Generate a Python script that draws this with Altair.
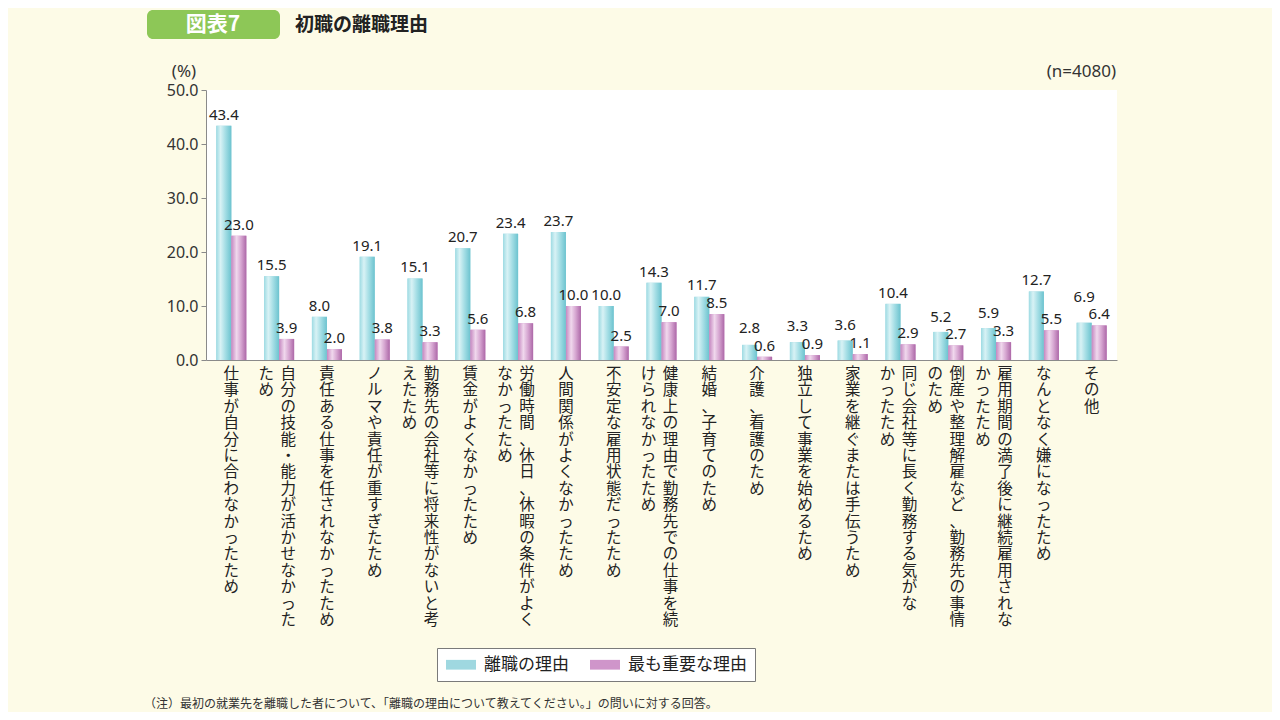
import altair as alt
import pandas as pd

# ---------------- data ----------------
label_cols = [
    ["仕事が自分に合わなかったため"],
    ["自分の技能・能力が活かせなかった", "ため"],
    ["責任ある仕事を任されなかったため"],
    ["ノルマや責任が重すぎたため"],
    ["勤務先の会社等に将来性がないと考", "えたため"],
    ["賃金がよくなかったため"],
    ["労働時間、休日、休暇の条件がよく", "なかったため"],
    ["人間関係がよくなかったため"],
    ["不安定な雇用状態だったため"],
    ["健康上の理由で勤務先での仕事を続", "けられなかったため"],
    ["結婚、子育てのため"],
    ["介護、看護のため"],
    ["独立して事業を始めるため"],
    ["家業を継ぐまたは手伝うため"],
    ["同じ会社等に長く勤務する気がな", "かったため"],
    ["倒産や整理解雇など、勤務先の事情", "のため"],
    ["雇用期間の満了後に継続雇用されな", "かったため"],
    ["なんとなく嫌になったため"],
    ["その他"],
]
categories = ["".join(c) for c in label_cols]
series_names = ["離職の理由", "最も重要な理由"]
reason_all = [43.4, 15.5, 8.0, 19.1, 15.1, 20.7, 23.4, 23.7, 10.0, 14.3,
              11.7, 2.8, 3.3, 3.6, 10.4, 5.2, 5.9, 12.7, 6.9]
reason_main = [23.0, 3.9, 2.0, 3.8, 3.3, 5.6, 6.8, 10.0, 2.5, 7.0,
               8.5, 0.6, 0.9, 1.1, 2.9, 2.7, 3.3, 5.5, 6.4]
y_ticks = [0, 10, 20, 30, 40, 50]

title_badge = "図表7"
title_text = "初職の離職理由"
unit_text = "(%)"
n_text = "(n=4080)"
note_text = "（注）最初の就業先を離職した者について、「離職の理由について教えてください。」の問いに対する回答。"

# ---------------- tables ----------------
rows = []
for i, c in enumerate(categories):
    rows.append({"cat": c, "series": series_names[0], "value": reason_all[i],
                 "other": reason_main[i]})
    rows.append({"cat": c, "series": series_names[1], "value": reason_main[i],
                 "other": reason_all[i]})
df = pd.DataFrame(rows)

lab_rows = []
for c, cols in zip(categories, label_cols):
    if len(cols) == 1:
        lab_rows.append({"cat": c, "pos": "single", "txt": "\n".join(cols[0])})
    else:
        lab_rows.append({"cat": c, "pos": "right", "txt": "\n".join(cols[0])})
        lab_rows.append({"cat": c, "pos": "left", "txt": "\n".join(cols[1])})
lab_df = pd.DataFrame(lab_rows)

JP = "Noto Sans CJK JP"
NUM = "Noto Sans"
W, H = 911, 270

blue_grad = {"gradient": "linear", "x1": 0, "x2": 1, "y1": 0, "y2": 0,
             "stops": [{"offset": 0, "color": "#9edbe3"},
                       {"offset": 0.28, "color": "#d8f2f5"},
                       {"offset": 0.6, "color": "#a5dee5"},
                       {"offset": 1, "color": "#6cc3cf"}]}
pink_grad = {"gradient": "linear", "x1": 0, "x2": 1, "y1": 0, "y2": 0,
             "stops": [{"offset": 0, "color": "#c587c0"},
                       {"offset": 0.35, "color": "#f0d8ed"},
                       {"offset": 0.65, "color": "#d6a6d1"},
                       {"offset": 1, "color": "#ad68a8"}]}

x_enc = alt.X("cat:N", sort=categories,
              scale=alt.Scale(domain=categories, paddingInner=0.372, paddingOuter=0.216),
              axis=alt.Axis(labels=False, ticks=False, title=None, domainColor="#8a8a8a",
                            domainWidth=1))
xo_enc = alt.XOffset("series:N", sort=series_names,
                     scale=alt.Scale(domain=series_names, paddingInner=0, paddingOuter=0))
y_scale = alt.Scale(domain=[0, 50])
y_enc = alt.Y("value:Q", scale=y_scale,
              axis=alt.Axis(values=y_ticks, format=".1f", title=None, grid=False,
                            labelFont=NUM, labelFontSize=16, labelColor="#333333",
                            tickSize=5, tickColor="#8a8a8a", domainColor="#8a8a8a",
                            labelPadding=3))

base = alt.Chart(df)

legend_bars = base.mark_bar().encode(
    x=x_enc, xOffset=xo_enc, y=y_enc,
    color=alt.Color("series:N", sort=series_names,
                    scale=alt.Scale(domain=series_names, range=["#9fd8e0", "#cf95ca"]),
                    legend=alt.Legend(title=None, orient="none", direction="horizontal",
                                      legendX=231, legendY=558,
                                      symbolType="M-1,-0.65H3V0.65H-1Z",
                                      symbolSize=225, symbolStrokeWidth=0,
                                      labelFont=JP, labelFontSize=17, labelColor="#222222",
                                      columnPadding=20, labelOffset=22,
                                      strokeColor="#7a7a7a", fillColor="white",
                                      padding=8)),
)

blue_bars = base.transform_filter(alt.datum.series == series_names[0]).mark_bar(
    fill=blue_grad).encode(x=x_enc, xOffset=xo_enc, y=y_enc)
pink_bars = base.transform_filter(alt.datum.series == series_names[1]).mark_bar(
    fill=pink_grad).encode(x=x_enc, xOffset=xo_enc, y=y_enc)

# value labels: the left (blue) label is lifted when the neighbouring bar is close in height
value_text = base.transform_calculate(
    ly=f"datum.series == '{series_names[0]}' && datum.other > datum.value - 3.3 "
       f"? max(datum.value, datum.other + 3.3) : datum.value"
).mark_text(baseline="bottom", dy=-3, font=NUM, fontSize=15,
            fontWeight="normal", color="#222222").encode(
    x=x_enc, xOffset=xo_enc, y=alt.Y("ly:Q", scale=y_scale),
    text=alt.Text("value:Q", format=".1f"))


def lab_layer(pos, dx):
    return alt.Chart(lab_df).transform_filter(alt.datum.pos == pos).mark_text(
        lineBreak="\n", lineHeight=16.4, baseline="top", align="center", dx=dx,
        font=JP, fontSize=15.5, color="#222222").encode(
        x=alt.X("cat:N", sort=categories), y=alt.value(H + 7), text="txt:N")


labels_single = lab_layer("single", 0)
labels_right = lab_layer("right", 9)
labels_left = lab_layer("left", -13)


def note(txt, x, y, **kw):
    return alt.Chart(pd.DataFrame({"t": [txt]})).mark_text(**kw).encode(
        text="t:N", x=alt.value(x), y=alt.value(y))


badge = alt.Chart(pd.DataFrame({"t": [title_badge]})).mark_rect(
    fill="#8dc757", cornerRadius=6).encode(
    x=alt.value(-59), x2=alt.value(74), y=alt.value(-80), y2=alt.value(-51))
badge_txt = note(title_badge, 7, -65, font=JP, fontSize=21, fontWeight="bold",
                 color="white", align="center", baseline="middle")
title_t = note(title_text, 89, -65, font=JP, fontSize=19, fontWeight="bold",
               color="#222222", align="left", baseline="middle")
unit_t = note(unit_text, -22, -18, font=NUM, fontSize=17, color="#333333",
              align="center", baseline="middle")
n_t = note(n_text, 910, -18, font=NUM, fontSize=17, color="#333333",
           align="right", baseline="middle")
note_t = note(note_text, -62, 614, font=JP, fontSize=12, color="#333333",
              align="left", baseline="middle")

chart = alt.layer(
    legend_bars, blue_bars, pink_bars, value_text,
    labels_single, labels_right, labels_left,
    badge, badge_txt, title_t, unit_t, n_t, note_t,
).properties(
    width=W, height=H,
    padding={"left": 198, "top": 82, "right": 155, "bottom": 352},
    autosize=alt.AutoSizeParams(type="none"),
    background="#fdfbe7",
).configure_view(fill="white", stroke=None)

chart.save("out.html", embed_options={"renderer": "svg", "actions": False})
